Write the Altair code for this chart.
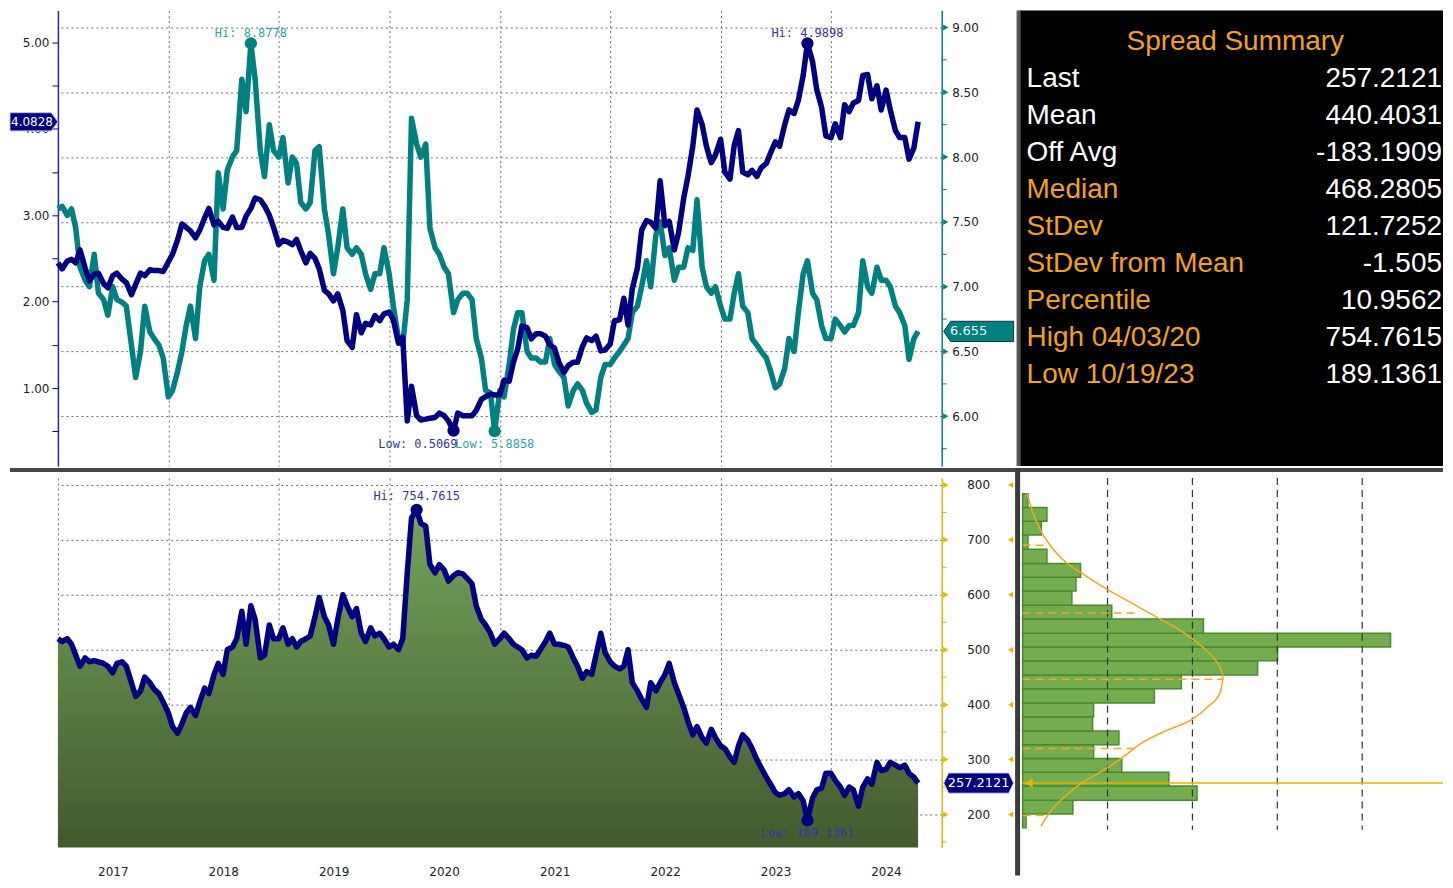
import altair as alt
import pandas as pd

# ---------------- data ----------------
dates = [f"{y}-{m:02d}-{d:02d}" for y in range(2017, 2025) for m in range(1, 13) for d in (1, 15)][:188]

ust10 = [
    2.45, 2.38, 2.47, 2.49, 2.45, 2.60, 2.39, 2.24, 2.32, 2.33, 2.21, 2.16,
    2.30, 2.33, 2.26, 2.22, 2.08, 2.20, 2.33, 2.30, 2.37, 2.36, 2.36, 2.35,
    2.46, 2.55, 2.72, 2.90, 2.86, 2.82, 2.74, 2.83, 2.97, 3.08, 2.89, 2.93,
    2.86, 2.85, 2.98, 2.86, 2.86, 2.99, 3.08, 3.20, 3.18, 3.11, 3.00, 2.86,
    2.66, 2.71, 2.69, 2.66, 2.72, 2.59, 2.45, 2.56, 2.50, 2.38, 2.13, 2.09,
    2.01, 2.09, 1.90, 1.55, 1.47, 1.85, 1.64, 1.75, 1.73, 1.84, 1.78, 1.86,
    1.88, 1.79, 1.52, 1.59, 0.62, 1.02, 0.68, 0.63, 0.64, 0.65, 0.66, 0.71,
    0.68, 0.62, 0.5069, 0.71, 0.68, 0.68, 0.68, 0.74, 0.87, 0.90, 0.93, 0.92,
    0.92, 1.09, 1.08, 1.30, 1.45, 1.72, 1.70, 1.57, 1.63, 1.63, 1.60, 1.50,
    1.46, 1.30, 1.18, 1.26, 1.30, 1.30, 1.48, 1.58, 1.55, 1.60, 1.43, 1.44,
    1.51, 1.78, 1.79, 2.04, 1.73, 2.15, 2.39, 2.83, 2.94, 2.92, 2.85, 3.40,
    2.88, 2.93, 2.60, 2.80, 3.20, 3.45, 3.80, 4.22, 4.05, 3.80, 3.61, 3.70,
    3.88, 3.50, 3.42, 3.81, 3.98, 3.50, 3.47, 3.52, 3.45, 3.55, 3.60, 3.72,
    3.85, 3.80, 4.05, 4.22, 4.18, 4.33, 4.62, 4.9898, 4.78, 4.45, 4.25, 3.92,
    3.90, 4.06, 3.90, 4.28, 4.20, 4.30, 4.33, 4.62, 4.63, 4.35, 4.50, 4.22,
    4.45, 4.22, 3.98, 3.90, 3.90, 3.65, 3.78, 4.0828,
]

idn10 = [
    7.60, 7.62, 7.55, 7.60, 7.45, 7.15, 7.05, 7.00, 7.25, 6.95, 6.90, 6.78,
    7.00, 6.90, 6.88, 6.85, 6.55, 6.30, 6.50, 6.85, 6.65, 6.60, 6.55, 6.45,
    6.15, 6.20, 6.35, 6.50, 6.70, 6.85, 6.60, 7.00, 7.20, 7.25, 7.05, 7.88,
    7.60, 7.90, 8.00, 8.05, 8.60, 8.35, 8.8778, 8.60, 8.05, 7.85, 8.25, 8.05,
    8.00, 8.15, 7.80, 8.00, 7.95, 7.65, 7.60, 7.65, 8.05, 8.08, 7.60, 7.40,
    7.10, 7.30, 7.60, 7.30, 7.25, 7.30, 7.25, 7.10, 6.98, 7.10, 7.10, 7.30,
    7.10, 6.85, 6.60, 6.55, 6.90, 8.30, 8.10, 8.00, 8.10, 7.45, 7.30, 7.25,
    7.15, 7.10, 6.80, 6.90, 6.95, 6.95, 6.90, 6.60, 6.45, 6.20, 6.18, 5.8858,
    6.20, 6.15, 6.40, 6.67, 6.80, 6.80, 6.50, 6.45, 6.45, 6.42, 6.42, 6.60,
    6.40, 6.35, 6.30, 6.08, 6.20, 6.25, 6.20, 6.10, 6.03, 6.05, 6.30, 6.40,
    6.40, 6.45, 6.50, 6.55, 6.60, 6.80, 6.85, 7.00, 7.20, 7.00, 7.40, 7.50,
    7.24, 7.30, 7.05, 7.15, 7.15, 7.30, 7.28, 7.67, 7.15, 7.00, 6.95, 7.00,
    6.85, 6.75, 6.75, 6.95, 7.10, 6.85, 6.80, 6.60, 6.55, 6.50, 6.45, 6.35,
    6.22, 6.25, 6.37, 6.60, 6.50, 6.80, 7.10, 7.20, 6.95, 6.90, 6.70, 6.60,
    6.60, 6.75, 6.70, 6.65, 6.70, 6.70, 6.80, 7.20, 7.00, 6.95, 7.15, 7.05,
    7.05, 7.00, 6.85, 6.80, 6.70, 6.44, 6.60, 6.655,
]

spread_bp = [
    520, 515, 520, 510, 490, 470, 485, 478, 480, 478, 475, 470,
    458, 475, 478, 470, 440, 415, 425, 450, 440, 428, 420, 405,
    385, 360, 348, 365, 385, 395, 380, 405, 430, 420, 455, 475,
    455, 500, 505, 520, 570, 510, 580, 555, 485, 490, 545, 520,
    520, 540, 510, 520, 505, 515, 520, 525, 560, 595, 560, 545,
    510, 555, 600, 580, 560, 575, 530, 515, 540, 525, 530, 520,
    505, 510, 500, 520, 640, 740, 754.7615, 730, 725, 655, 640, 655,
    645, 625, 635, 640, 638, 630, 620, 580, 555, 545, 530, 510,
    520, 530, 520, 510, 505, 500, 485, 490, 488, 500, 515, 530,
    510, 510, 508, 505, 485, 470, 448, 460, 455, 490, 530, 495,
    478, 470, 465, 470, 500, 440, 425, 410, 395, 440, 425, 440,
    455, 475, 440, 420, 395, 370, 345, 360, 340, 330, 355, 340,
    325, 320, 305, 295, 325, 345, 335, 320, 300, 285, 268, 255,
    240, 235, 238, 245, 232, 238, 225, 189.1361, 230, 245, 248, 275,
    275, 262, 250, 235, 250, 245, 215, 250, 265, 255, 295, 280,
    282, 295, 290, 285, 290, 275, 268, 257.2121,
]

# histogram of spread (bins low->high) and fitted curve
bin_lo = [176, 201, 226, 252, 277, 302, 327, 352, 378, 403, 429, 454,
          480, 505, 530, 556, 581, 607, 632, 657, 683, 709, 734, 759]
bin_hi = [201, 226, 252, 277, 302, 327, 352, 378, 403, 429, 454, 480,
          505, 530, 556, 581, 607, 632, 657, 683, 709, 734, 759, 784]
bin_count = [2.0, 29.6, 102.7, 86.1, 58.4, 41.8, 56.7, 41.2, 41.8, 77.6, 93.5, 138.4,
             150.2, 216.7, 106.5, 52.5, 29.0, 31.4, 34.1, 14.3, 3.1, 11.0, 14.3, 3.1]
curve_v = [784.7, 754.5, 718.2, 693.9, 657.5, 639.3, 612.0, 584.7, 557.5, 533.3, 506.0, 481.8,
           457.5, 445.5, 421.1, 396.9, 372.7, 354.5, 330.2, 303.0, 278.7, 257.5, 233.3, 209.1, 178.8]
curve_f = [2.6, 5.5, 10.4, 15.3, 26.1, 34.9, 48.6, 64.3, 80.0, 93.7, 105.5, 113.3,
           117.6, 118.2, 116.3, 109.4, 99.6, 85.9, 70.2, 58.5, 46.7, 34.9, 25.1, 17.3, 10.8]
stat_levels = [198, 320, 446, 567, 690]
stat_len = [15, 66, 118, 66, 15]
hist_grid = [50, 100, 150, 200]

summary_labels = ["Last", "Mean", "Off Avg", "Median", "StDev", "StDev from Mean",
                  "Percentile", "High 04/03/20", "Low 10/19/23"]
summary_values = ["257.2121", "440.4031", "-183.1909", "468.2805", "121.7252", "-1.505",
                  "10.9562", "754.7615", "189.1361"]
summary_label_colors = ["#ffffff", "#ffffff", "#ffffff", "#f4a11e", "#f4a11e", "#f4a11e",
                        "#f4a11e", "#f4a11e", "#f4a11e"]

teal_major = [6.0, 6.5, 7.0, 7.5, 8.0, 8.5, 9.0]
teal_minor = [5.75, 6.25, 6.75, 7.25, 7.75, 8.25, 8.75]
navy_ticks = [0.5, 1.0, 1.5, 2.0, 2.5, 3.0, 3.5, 4.0, 4.5, 5.0]
spread_major = [200, 300, 400, 500, 600, 700, 800]
spread_minor = [150, 250, 350, 450, 550, 650, 750]

# ---------------- styling ----------------
W, H1, H2 = 885, 456, 370
SW = 424
NAVY = "#000080"
TEAL = "#008080"
GOLD = "#e8b400"
ORANGE = "#f5a623"
GRID = "#6e6e6e"
FONT = "DejaVu Sans"
LW = 5.5

df = pd.DataFrame({"date": dates, "navy": ust10, "teal": idn10, "spread": spread_bp})

ts = alt.Scale(domain=[5.617, 9.13], zero=False, nice=False)
ns = alt.Scale(domain=[0.098, 5.37], zero=False, nice=False)
ss = alt.Scale(domain=[140, 812.7], zero=False, nice=False)
hx = alt.Scale(domain=[-1.8, 247.6], zero=False, nice=False)
xs = alt.Scale(domain=[alt.DateTime(year=2017, month=1, date=1, utc=True),
                       alt.DateTime(year=2025, month=1, date=1, utc=True)])
year_ticks = [alt.DateTime(year=y, month=1, date=1, utc=True) for y in range(2017, 2025)]


def x_axis(labels):
    return alt.Axis(values=year_ticks, grid=True, gridColor=GRID, gridDash=[2, 3], gridWidth=1,
                    ticks=False, domain=False, labels=labels,
                    labelExpr="utcFormat(datum.value, '%Y')", labelOffset=55, labelFlush=False,
                    labelPadding=19, labelFont=FONT, labelFontSize=12, labelColor="#222222",
                    title=None)


XT = alt.X("date:T", scale=xs, axis=x_axis(False))
XB = alt.X("date:T", scale=xs, axis=x_axis(True))
one = pd.DataFrame({"a": [0]})

# ---------------- top panel ----------------
teal_line = alt.Chart(df).mark_line(color=TEAL, strokeWidth=LW, strokeJoin="round").encode(
    x=XT,
    y=alt.Y("teal:Q", scale=ts, axis=alt.Axis(
        orient="right", values=teal_major, format=".2f", grid=True, gridColor=GRID,
        gridDash=[2, 3], tickSize=0, domainColor=TEAL, domainWidth=1.5, labelPadding=10,
        labelFont=FONT, labelFontSize=12, labelColor="#222222", title=None)))

navy_line = alt.Chart(df).mark_line(color=NAVY, strokeWidth=LW, strokeJoin="round").encode(
    x=XT,
    y=alt.Y("navy:Q", scale=ns, axis=alt.Axis(
        orient="left", values=navy_ticks,
        labelExpr="datum.value % 1 === 0 ? format(datum.value, '.2f') : ''",
        grid=False, tickSize=6, tickColor=NAVY, domainColor="#2828a0", domainWidth=1.5,
        labelPadding=3, labelFont=FONT, labelFontSize=12, labelColor="#1a1a3a", title=None)))

tri_t = alt.Chart(pd.DataFrame({"v": teal_major})).mark_point(
    shape="triangle-right", filled=True, size=36, color=TEAL, opacity=1).encode(
    x=alt.value(W + 4), y=alt.Y("v:Q", scale=ts, axis=None))
minor_t = alt.Chart(pd.DataFrame({"v": teal_minor})).mark_rule(color=TEAL, strokeWidth=1).encode(
    x=alt.value(W), x2=alt.value(W + 5), y=alt.Y("v:Q", scale=ts, axis=None))

teal_hi = pd.DataFrame({"date": ["2018-10-01"], "v": [8.8778], "label": ["Hi: 8.8778"]})
teal_lo = pd.DataFrame({"date": ["2020-12-15"], "v": [5.8858], "label": ["Low: 5.8858"]})
navy_hi = pd.DataFrame({"date": ["2023-10-15"], "v": [4.9898], "label": ["Hi: 4.9898"]})
navy_lo = pd.DataFrame({"date": ["2020-08-01"], "v": [0.5069], "label": ["Low: 0.5069"]})


def marker(d, scale, color):
    return alt.Chart(d).mark_point(filled=True, size=150, color=color, opacity=1).encode(
        x=XT, y=alt.Y("v:Q", scale=scale, axis=None))


def mlabel(d, scale, color, dy, align="center", dx=0):
    return alt.Chart(d).mark_text(font="DejaVu Sans Mono", fontSize=12, color=color, dy=dy,
                                  dx=dx, align=align, baseline="middle").encode(
        x=XT, y=alt.Y("v:Q", scale=scale, axis=None), text="label:N")


TEAL_LBL = "#33a3a3"
NAVY_LBL = "#3535a5"

box_left = "M-1,-0.38L0.72,-0.38L1,0L0.72,0.38L-1,0.38Z"
box_right = "M-1,0L-0.8,-0.29L1,-0.29L1,0.29L-0.8,0.29Z"
box_hex = "M-1,0L-0.86,-0.29L0.86,-0.29L1,0L0.86,0.29L-0.86,0.29Z"

navy_last = pd.DataFrame({"v": [4.0828], "t": ["4.0828"]})
teal_last = pd.DataFrame({"v": [6.655], "t": ["6.655"]})

navy_box = alt.Chart(navy_last).mark_point(shape=box_left, size=2304, filled=True, color=NAVY,
                                            opacity=1, stroke="#c0c0e0", strokeWidth=1).encode(
    x=alt.value(-24), y=alt.Y("v:Q", scale=ns, axis=None))
navy_box_t = alt.Chart(navy_last).mark_text(font=FONT, fontSize=12, color="white").encode(
    x=alt.value(-26), y=alt.Y("v:Q", scale=ns, axis=None), text="t:N")
teal_box = alt.Chart(teal_last).mark_point(shape=box_right, size=4900, filled=True, color=TEAL,
                                            opacity=1, stroke="#203030", strokeWidth=1).encode(
    x=alt.value(W + 37), y=alt.Y("v:Q", scale=ts, axis=None))
teal_box_t = alt.Chart(teal_last).mark_text(font=FONT, fontSize=13, color="#e8f4f4").encode(
    x=alt.value(W + 27), y=alt.Y("v:Q", scale=ts, axis=None), text="t:N")

sep_h = alt.Chart(one).mark_rule(color="#474747", strokeWidth=4).encode(
    x=alt.value(-48), x2=alt.value(W + 78 + SW), y=alt.value(H1 + 4))

top = alt.layer(
    teal_line, navy_line, minor_t, tri_t,
    marker(teal_hi, ts, TEAL), marker(teal_lo, ts, TEAL),
    marker(navy_hi, ns, NAVY), marker(navy_lo, ns, NAVY),
    mlabel(teal_hi, ts, TEAL_LBL, -10), mlabel(teal_lo, ts, TEAL_LBL, 13),
    mlabel(navy_hi, ns, NAVY_LBL, -10), mlabel(navy_lo, ns, NAVY_LBL, 13, align="right", dx=4),
    navy_box, navy_box_t, teal_box, teal_box_t, sep_h,
).resolve_scale(y="independent").properties(width=W, height=H1)

# ---------------- summary panel ----------------
sy = alt.Scale(type="point", domain=list(range(10)), range=[31, 365], padding=0)
sum_df = pd.DataFrame({"row": list(range(1, 10)), "label": summary_labels,
                       "value": summary_values, "lc": summary_label_colors})
bg = alt.Chart(one).mark_rect(color="black").encode(
    x=alt.value(0), x2=alt.value(SW), y=alt.value(0), y2=alt.value(H1))
sum_border = alt.Chart(one).mark_rule(color="#555555", strokeWidth=4).encode(
    x=alt.value(-1), y=alt.value(0), y2=alt.value(H1))
title_t = alt.Chart(pd.DataFrame({"row": [0], "t": ["Spread Summary"]})).mark_text(
    font="Liberation Sans", fontSize=28, color="#f4a11e", align="center", baseline="middle").encode(
    x=alt.value(216), y=alt.Y("row:O", scale=sy, axis=None), text="t:N")
lab_t = alt.Chart(sum_df).mark_text(font="Liberation Sans", fontSize=28, align="left",
                                    baseline="middle").encode(
    x=alt.value(7), y=alt.Y("row:O", scale=sy, axis=None), text="label:N",
    color=alt.Color("lc:N", scale=None))
val_t = alt.Chart(sum_df).mark_text(font="Liberation Sans", fontSize=28, align="right",
                                    baseline="middle", color="white").encode(
    x=alt.value(SW - 1), y=alt.Y("row:O", scale=sy, axis=None), text="value:N")
summary = alt.layer(bg, sum_border, title_t, lab_t, val_t).properties(width=SW, height=H1)

# ---------------- bottom panel ----------------
grad = alt.Gradient(gradient="linear",
                    stops=[alt.GradientStop(color="#74a45c", offset=0),
                           alt.GradientStop(color="#425a2e", offset=1)],
                    x1=1, x2=1, y1=0, y2=1)
area = alt.Chart(df).mark_area(color=grad).encode(
    x=XB,
    y=alt.Y("spread:Q", scale=ss, axis=alt.Axis(
        orient="right", values=spread_major, grid=True, gridColor=GRID, gridDash=[2, 3],
        tickSize=0, domainColor=GOLD, domainWidth=1.5, labelPadding=25, labelFont=FONT,
        labelFontSize=12, labelColor="#222222", title=None)),
    y2=alt.datum(140))
sline = alt.Chart(df).mark_line(color=NAVY, strokeWidth=LW, strokeJoin="round").encode(
    x=XB, y=alt.Y("spread:Q", scale=ss, axis=None))
tri_s = alt.Chart(pd.DataFrame({"v": spread_major})).mark_point(
    shape="triangle-right", filled=True, size=36, color=GOLD, opacity=1).encode(
    x=alt.value(W + 4), y=alt.Y("v:Q", scale=ss, axis=None))
minor_s = alt.Chart(pd.DataFrame({"v": spread_minor})).mark_rule(color=GOLD, strokeWidth=1).encode(
    x=alt.value(W), x2=alt.value(W + 5), y=alt.Y("v:Q", scale=ss, axis=None))

s_hi = pd.DataFrame({"date": ["2020-04-01"], "v": [754.7615], "label": ["Hi: 754.7615"]})
s_lo = pd.DataFrame({"date": ["2023-10-15"], "v": [189.1361], "label": ["Low: 189.1361"]})


def smarker(d):
    return alt.Chart(d).mark_point(filled=True, size=150, color=NAVY, opacity=1).encode(
        x=XB, y=alt.Y("v:Q", scale=ss, axis=None))


def slabel(d, dy):
    return alt.Chart(d).mark_text(font="DejaVu Sans Mono", fontSize=12, color=NAVY_LBL,
                                  dy=dy, baseline="middle").encode(
        x=XB, y=alt.Y("v:Q", scale=ss, axis=None), text="label:N")


s_last = pd.DataFrame({"v": [257.2121], "t": ["257.2121"]})
s_box = alt.Chart(s_last).mark_point(shape=box_hex, size=4900, filled=True, color=NAVY,
                                     opacity=1, stroke="#d0d0e8", strokeWidth=1).encode(
    x=alt.value(W + 37), y=alt.Y("v:Q", scale=ss, axis=None))
s_box_t = alt.Chart(s_last).mark_text(font=FONT, fontSize=13, color="white").encode(
    x=alt.value(W + 37), y=alt.Y("v:Q", scale=ss, axis=None), text="t:N")

bottom = alt.layer(
    area, sline, minor_s, tri_s, smarker(s_hi), smarker(s_lo),
    slabel(s_hi, -14), slabel(s_lo, 13), s_box, s_box_t,
).resolve_scale(y="independent").properties(width=W, height=H2)

# ---------------- histogram panel ----------------
hist_df = pd.DataFrame({"lo": bin_lo, "hi": bin_hi, "n": bin_count, "z": [0] * len(bin_lo)})
bars = alt.Chart(hist_df).mark_rect(fill="#73ad50", stroke="#4a8a2e", strokeWidth=1.5).encode(
    x=alt.X("z:Q", scale=hx, axis=None), x2="n:Q",
    y=alt.Y("lo:Q", scale=ss, axis=None), y2="hi:Q")
hgrid = alt.Chart(pd.DataFrame({"g": hist_grid, "top": [812.7] * 4, "bot": [172] * 4})).mark_rule(
    color="#333333", strokeDash=[7, 5], strokeWidth=1.2).encode(
    x=alt.X("g:Q", scale=hx, axis=None), y=alt.Y("top:Q", scale=ss, axis=None), y2="bot:Q")
curve = alt.Chart(pd.DataFrame({"v": curve_v, "f": curve_f})).mark_line(
    color=ORANGE, strokeWidth=1.5, interpolate="monotone").encode(
    x=alt.X("f:Q", scale=hx, axis=None), y=alt.Y("v:Q", scale=ss, axis=None), order="v:Q")
stats = alt.Chart(pd.DataFrame({"lvl": stat_levels, "len": stat_len, "z": [0] * 5})).mark_rule(
    color=ORANGE, strokeDash=[8, 5], strokeWidth=1.5).encode(
    x=alt.X("z:Q", scale=hx, axis=None), x2="len:Q", y=alt.Y("lvl:Q", scale=ss, axis=None))
last_line = alt.Chart(s_last).mark_rule(color=GOLD, strokeWidth=1.5).encode(
    x=alt.value(3), x2=alt.value(SW), y=alt.Y("v:Q", scale=ss, axis=None))
last_tri = alt.Chart(s_last).mark_point(shape="triangle-left", filled=True, size=90,
                                        color=GOLD, opacity=1).encode(
    x=alt.value(9), y=alt.Y("v:Q", scale=ss, axis=None))
tri_h = alt.Chart(pd.DataFrame({"v": spread_major})).mark_point(
    shape="triangle-left", filled=True, size=36, color=GOLD, opacity=1).encode(
    x=alt.value(-9), y=alt.Y("v:Q", scale=ss, axis=None))
sep_v = alt.Chart(one).mark_rule(color="#3c3c3c", strokeWidth=5).encode(
    x=alt.value(-2), y=alt.value(-10), y2=alt.value(H2 + 28))

hist = alt.layer(bars, hgrid, stats, curve, last_line, last_tri, tri_h, sep_v).properties(
    width=SW, height=H2)

chart = alt.concat(top, summary, bottom, hist, columns=2,
                   spacing=alt.RowColnumber(row=12, column=78), bounds="flush").properties(
    padding=0, background="white").configure_view(stroke=None)

chart.save("out.html", embed_options={"renderer": "svg", "actions": False})
